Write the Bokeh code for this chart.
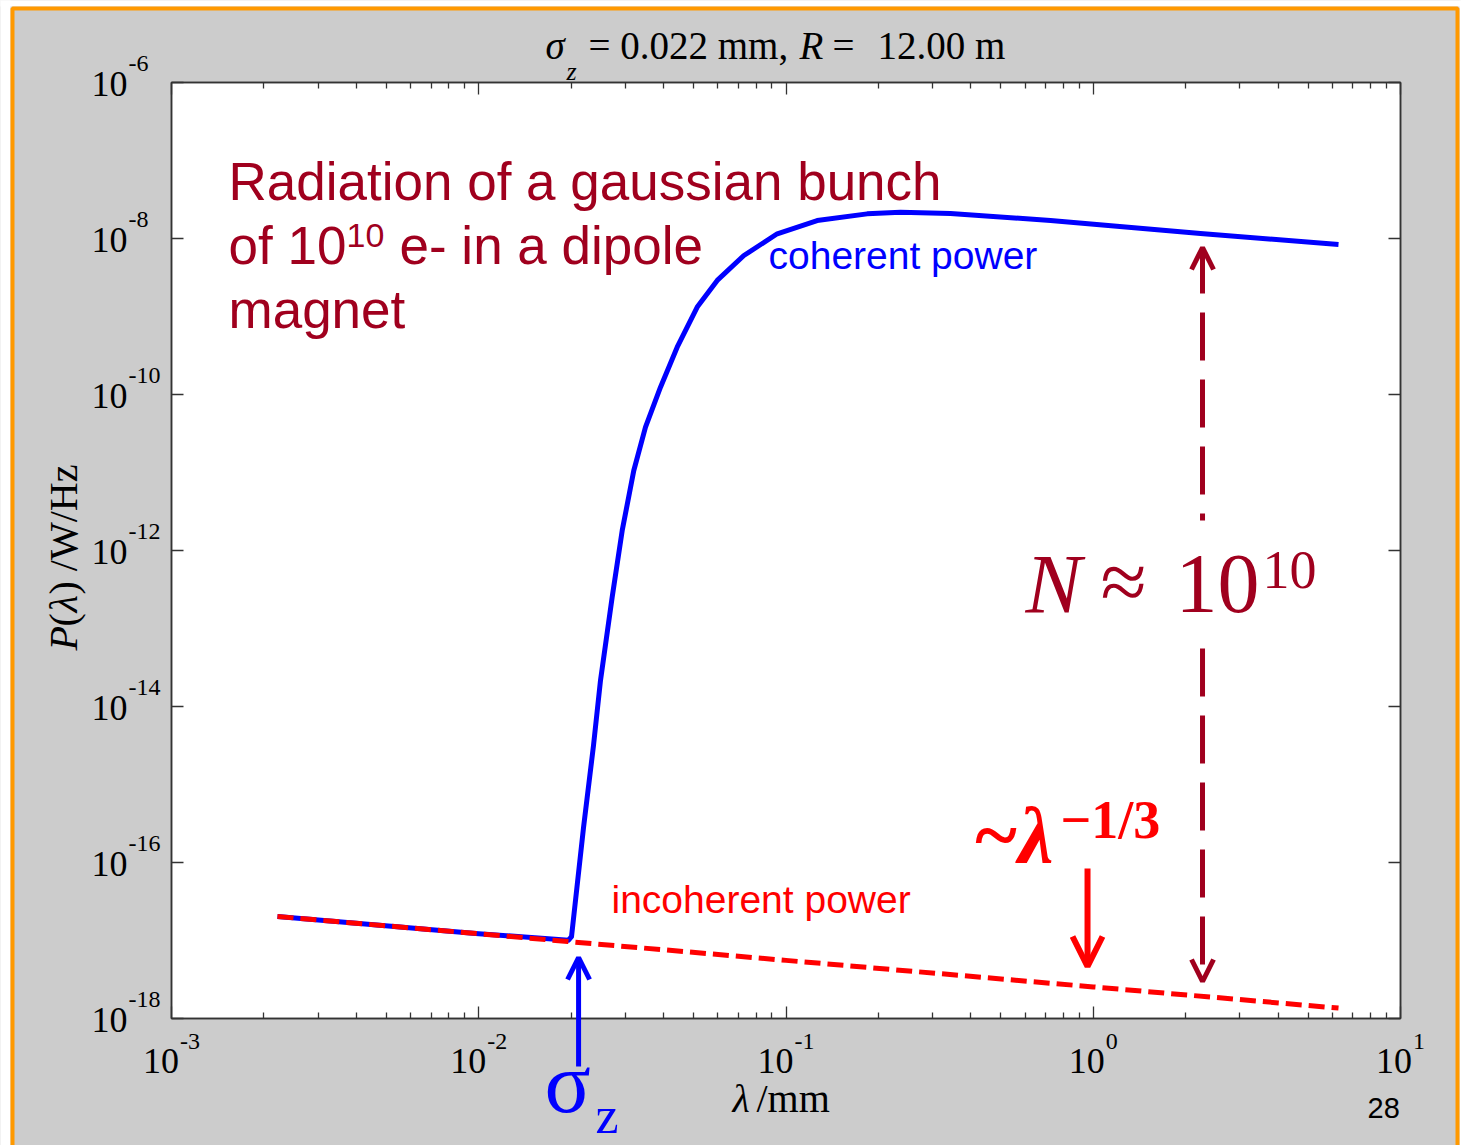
import math
from bokeh.plotting import figure
from bokeh.models import (Label, Arrow, OpenHead, BoxAnnotation, LogAxis, FixedTicker,
                          CustomJSTickFormatter)
from bokeh.embed import file_html
from bokeh.resources import INLINE

# ---------------- data ----------------
lam_coherent = [0.002213, 0.01, 0.0196, 0.02004, 0.02193, 0.02363, 0.02490, 0.02718,
                0.02930, 0.03196, 0.03489, 0.03904, 0.04424, 0.05141, 0.05973, 0.07292,
                0.09363, 0.1263, 0.1837, 0.2359, 0.343, 0.7262, 2.234, 6.284]
p_coherent = [2.03e-17, 1.22e-17, 1.01e-17, 1.12e-17, 2.81e-16, 3.16e-15, 2.15e-14, 2.52e-13,
              1.80e-12, 1.06e-11, 3.81e-11, 1.24e-10, 4.04e-10, 1.32e-9, 2.90e-9, 6.05e-9,
              1.15e-8, 1.70e-8, 2.07e-8, 2.17e-8, 2.09e-8, 1.70e-8, 1.16e-8, 8.38e-9]
lam_incoherent = [0.002213, 0.01, 0.0195, 0.1, 1.0, 6.284]
p_incoherent = [2.03e-17, 1.22e-17, 9.7e-18, 5.56e-18, 2.54e-18, 1.36e-18]

x_lim = (1e-3, 1e1)
y_lim = (1e-18, 1e-6)
x_ticks = [1e-3, 1e-2, 1e-1, 1e0, 1e1]
x_tick_exp = ["-3", "-2", "-1", "0", "1"]
x_minor = [k * 10.0 ** e for e in (-3, -2, -1, 0) for k in range(2, 10)]
y_ticks = [1e-18, 1e-16, 1e-14, 1e-12, 1e-10, 1e-8, 1e-6]
y_tick_exp = ["-18", "-16", "-14", "-12", "-10", "-8", "-6"]

sigma_z_lam = 0.02113          # arrow marking sigma_z
arrow_13_lam = 0.958           # arrow under ~lambda^-1/3
ratio_lam = 2.268              # N ~ 1e10 double arrow

# ---------------- geometry ----------------
W, H = 1461, 1145
FL, FR, FT, FB = 171, 1400, 82, 1018
XL, XR = math.log10(x_lim[0]), math.log10(x_lim[1])
YB, YT = math.log10(y_lim[0]), math.log10(y_lim[1])


def dx(px):
    return 10 ** (XL + (px - FL) * (XR - XL) / (FR - FL))


def dy(py):
    return 10 ** (YT - (py - FT) * (YT - YB) / (FB - FT))


def px_of_x(v):
    return FL + (math.log10(v) - XL) * (FR - FL) / (XR - XL)


def py_of_y(v):
    return FT + (YT - math.log10(v)) * (FB - FT) / (YT - YB)


# the frame spans the whole canvas; the axes box is placed inside it
p = figure(width=W, height=H, x_axis_type="log", y_axis_type="log",
           x_range=(dx(0), dx(W)), y_range=(dy(H), dy(0)),
           x_axis_location=None, y_axis_location=None,
           output_backend="svg", toolbar_location=None,
           min_border=0)
p.background_fill_color = "#CCCCCC"
p.border_fill_color = "#CCCCCC"
p.outline_line_color = None
p.grid.visible = False

# white axes box
p.add_layout(BoxAnnotation(left=x_lim[0], right=x_lim[1], bottom=y_lim[0], top=y_lim[1],
                           fill_color="white", fill_alpha=1.0, line_color="#333333",
                           line_alpha=1.0, line_width=1.5, level="underlay"))

blank = CustomJSTickFormatter(code="return ''")


def make_axis(ticks, minor, loc, bounds):
    ax = LogAxis(ticker=FixedTicker(ticks=ticks, minor_ticks=minor),
                 fixed_location=loc, bounds=bounds, formatter=blank)
    ax.major_tick_in = 12
    ax.major_tick_out = 0
    ax.minor_tick_in = 6
    ax.minor_tick_out = 0
    ax.axis_line_color = "#333333"
    ax.major_tick_line_color = "#333333"
    ax.minor_tick_line_color = "#333333"
    ax.axis_line_width = 1.5
    ax.major_tick_line_width = 1.3
    ax.minor_tick_line_width = 1.3
    return ax


p.add_layout(make_axis(x_ticks, x_minor, y_lim[0], x_lim), "below")
p.add_layout(make_axis(x_ticks, x_minor, y_lim[1], x_lim), "above")
p.add_layout(make_axis(y_ticks, [], x_lim[0], y_lim), "left")
p.add_layout(make_axis(y_ticks, [], x_lim[1], y_lim), "right")

# ---------------- curves ----------------
p.line(lam_coherent, p_coherent, line_color="#0000FF", line_width=5, line_join="round")
p.line(lam_incoherent, p_incoherent, line_color="#FF0000", line_width=5,
       line_dash="16 7")

DARKRED = "#A0001E"
SERIF = "Liberation Serif"
SANS = "Liberation Sans"
K = 0.35  # baseline correction (fraction of font size)


def lbl(text, px, py, size, color="black", font=SERIF, style="normal", angle=0.0):
    if angle:
        px = px - K * size
    else:
        py = py - K * size
    p.add_layout(Label(x=dx(px), y=dy(py), text=text, text_font=font,
                       text_font_size=f"{size}px", text_font_style=style,
                       text_color=color, text_align="left",
                       text_baseline="alphabetic", angle=angle))


# ---------------- tick labels ----------------
for t, e in zip(x_ticks, x_tick_exp):
    cx = px_of_x(t)
    sup_w = sum(8 if ch == "-" else 12 for ch in e)
    total = 36 + 1 + sup_w
    lbl("10", cx - total / 2, 1073, 36)
    lbl(e, cx - total / 2 + 37, 1049, 24)

for t, e in zip(y_ticks, y_tick_exp):
    cy = py_of_y(t)
    lbl("10", 91, cy + 14, 36)
    lbl(e, 128, cy - 11, 24)

# axis labels
lbl("λ", 732, 1112, 40, style="italic")
lbl("/mm", 756, 1112, 40)
ang = math.pi / 2
lbl("P", 77, 650, 40, style="italic", angle=ang)
lbl("(", 77, 626, 40, angle=ang)
lbl("λ", 77, 612, 40, style="italic", angle=ang)
lbl(") /W/Hz", 77, 594, 40, angle=ang)

# title
lbl("σ", 545, 59, 39, style="italic")
lbl("z", 566, 80, 26, style="italic")
lbl("= 0.022 mm,", 588, 59, 39)
lbl("R", 799, 59, 39, style="italic")
lbl("=", 832, 59, 39)
lbl("12.00 m", 877, 59, 39)

# ---------------- annotations ----------------
lbl("Radiation of a gaussian bunch", 228, 200, 53, DARKRED, SANS)
lbl("of", 228, 264, 53, DARKRED, SANS)
lbl("10", 287, 264, 53, DARKRED, SANS)
lbl("10", 346, 247, 34, DARKRED, SANS)
lbl("e- in a dipole", 399, 264, 53, DARKRED, SANS)
lbl("magnet", 228, 328, 53, DARKRED, SANS)

lbl("coherent power", 768, 269, 39, "#0000FF", SANS)
lbl("incoherent power", 611, 913, 39, "#FF0000", SANS)

lbl("N", 1025, 613, 84, DARKRED, style="italic")
lbl("≈", 1100, 610, 84, DARKRED)
lbl("10", 1175, 613, 84, DARKRED)
lbl("10", 1262, 588, 54, DARKRED)

lbl("~λ", 972, 862, 80, "#FF0000", style="bold italic")
lbl("−1/3", 1060, 838, 54, "#FF0000", style="bold")

lbl("σ", 544, 1113, 86, "#0000FF")
lbl("z", 595, 1133, 52, "#0000FF")

lbl("28", 1367, 1118, 29, "black", SANS)

# arrows
p.add_layout(Arrow(x_start=sigma_z_lam, y_start=dy(1066), x_end=sigma_z_lam, y_end=dy(957),
                   line_color="#0000FF", line_width=5,
                   end=OpenHead(size=22, line_color="#0000FF", line_width=5)))
p.add_layout(Arrow(x_start=arrow_13_lam, y_start=dy(868), x_end=arrow_13_lam, y_end=dy(966),
                   line_color="#FF0000", line_width=6,
                   end=OpenHead(size=30, line_color="#FF0000", line_width=6)))
p.add_layout(Arrow(x_start=ratio_lam, y_start=dy(520), x_end=ratio_lam, y_end=dy(247),
                   line_color=DARKRED, line_width=5, line_dash="48 19", line_dash_offset=41,
                   end=OpenHead(size=22, line_color=DARKRED, line_width=5)))
p.add_layout(Arrow(x_start=ratio_lam, y_start=dy(648), x_end=ratio_lam, y_end=dy(981),
                   line_color=DARKRED, line_width=5, line_dash="48 19",
                   end=OpenHead(size=22, line_color=DARKRED, line_width=5)))

# outer orange frame and white margin
for l_, r_, t_, b_ in [(-20, 10, -20, 1200), (-20, 1500, -20, 6), (1459, 1500, -20, 1200)]:
    p.add_layout(BoxAnnotation(left=dx(l_), right=dx(r_), top=dy(t_), bottom=dy(b_),
                               fill_color="white", fill_alpha=1.0, line_alpha=0))
p.add_layout(BoxAnnotation(left=dx(12), right=dx(1457), top=dy(8), bottom=dy(1170),
                           fill_alpha=0, line_color="#FF9900", line_alpha=1.0, line_width=4))

open("out.html", "w").write(file_html(p, INLINE))
